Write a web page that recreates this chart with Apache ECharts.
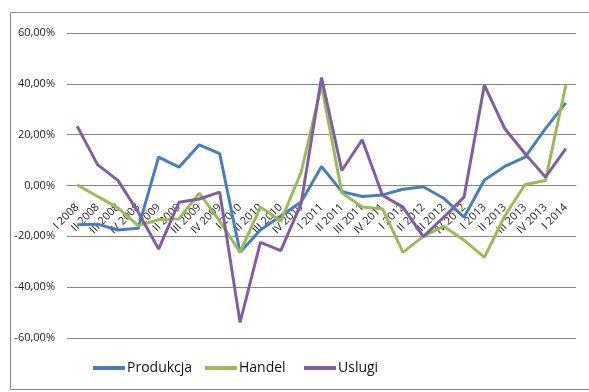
<!DOCTYPE html>
<html><head><meta charset="utf-8">
<script src="https://cdn.jsdelivr.net/npm/echarts@6/dist/echarts.min.js"></script>
<style>html,body{margin:0;padding:0;background:#fff}#c{width:589px;height:392px}</style>
</head><body><div id="c"></div>
<script>
const categories = ['I 2008','II 2008','III 2008','IV 2008','I 2009','II 2009','III 2009','IV 2009','I 2010','II 2010','III 2010','IV 2010','I 2011','II 2011','III 2011','IV 2011','I 2012','II 2012','III 2012','IV 2012','I 2013','II 2013','III 2013','IV 2013','I 2014'];
const produkcja = [-15.4,-15.2,-17.5,-16.8,11.2,7.2,16.0,12.5,-26.3,-17.5,-12,-6.5,7.5,-2.4,-4.3,-3.7,-1.5,-0.5,-5,-12.5,2.2,7.5,11.2,22.4,32.5];
const handel = [0.3,-4.3,-8.8,-15.8,-13.5,-13.1,-3.0,-14,-26.3,-8.5,-14,5.2,39.5,-2.9,-8.5,-9.2,-26.3,-20,-16,-21.5,-28.3,-12,0.4,2.0,39.5];
const uslugi = [23.3,8.2,2.0,-10.5,-25,-6.6,-5.3,-2.6,-53.9,-22.4,-25.6,-7,42.5,5.9,18.0,-3.9,-8.5,-20.1,-12.5,-4.6,39.5,22.4,12.5,3.3,14.5];
const seriesNames = ['Produkcja','Handel','Uslugi'];
const colors = ['#4A7EBB','#9BBB59','#7F5FA1'];

const FONT = '"Liberation Sans Narrow","Open Sans",sans-serif';
const chart = echarts.init(document.getElementById('c'));
const dataSets = [produkcja, handel, uslugi];
const legendLefts = [93, 205, 304];
const gridTop = 33, gridBottom = 54, H = 392;
const yMin = -60, yMax = 60;
const plotH = H - gridTop - gridBottom;
// put the category axis at value 0
const zeroOffset = -plotH * (0 - yMin) / (yMax - yMin);
chart.setOption({
  animation: false,
  graphic: [{type:'rect', shape:{x:10.5,y:12.5,width:600,height:377}, style:{fill:'none',stroke:'#898989',lineWidth:1}, silent:true}],
  grid: {left: 67, right: 13, top: gridTop, bottom: gridBottom},
  legend: seriesNames.map((n,i)=>({
    data:[n], left: legendLefts[i], top: 361, padding:0, icon:'rect', itemWidth:32, itemHeight:4, itemGap:0,
    textStyle:{fontFamily:FONT, fontSize:14, color:'#111', padding:[0,0,0,-3]}
  })),
  xAxis: {
    type:'category', data: categories, boundaryGap:true, position:'bottom', offset: zeroOffset,
    axisLine:{show:true, onZero:false, lineStyle:{color:'#868686'}},
    axisTick:{show:false},
    axisLabel:{rotate:45, interval:0, margin:20, fontFamily:FONT, fontSize:11, color:'#222'}
  },
  yAxis: {
    type:'value', min:yMin, max:yMax, interval:20,
    axisLine:{show:false}, axisTick:{show:false},
    splitLine:{lineStyle:{color:'#868686', width:1}},
    axisLabel:{margin:12, fontFamily:FONT, fontSize:11, color:'#222',
      formatter: v => v.toFixed(2).replace('.',',') + '%'}
  },
  series: seriesNames.map((n,i)=>({
    name:n, type:'line', data:dataSets[i], showSymbol:false, symbol:'none',
    lineStyle:{color:colors[i], width:3}, itemStyle:{color:colors[i]}, z: 2+i
  }))
});
</script></body></html>
